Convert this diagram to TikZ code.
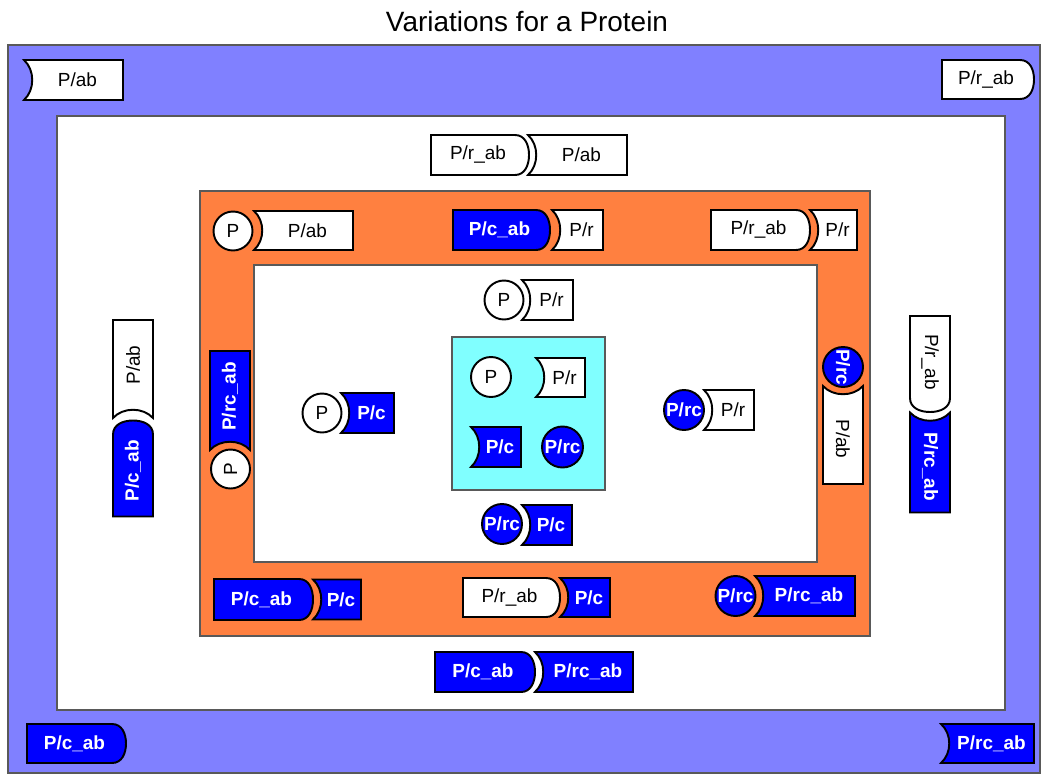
\documentclass[tikz,border=0pt]{standalone}
\usepackage{fontspec}
\setmainfont{Liberation Sans}
\usetikzlibrary{positioning}
\definecolor{outerblue}{RGB}{128,128,255}
\definecolor{orangebg}{RGB}{255,128,64}
\definecolor{cyanbg}{RGB}{128,255,255}
\definecolor{shapeblue}{RGB}{0,0,255}

\begin{document}
\begin{tikzpicture}[
    x=0.02cm, y=-0.02cm,
    region/.style={draw=black!65, line width=0.6pt},
    wbox/.style={draw, line width=1.1pt, fill=white},
    bbox/.style={draw, line width=1.1pt, fill=shapeblue},
    wtxt/.style={font=\fontsize{10.8}{12}\selectfont, text=black, inner sep=0pt},
    btxt/.style={font=\fontsize{10.8}{12}\selectfont\bfseries, text=white, inner sep=0pt},
    wcirc/.style={circle, wbox, wtxt, minimum size=0.78cm},
    bcirc/.style={circle, bbox, btxt, minimum size=0.8cm},
    pics/concbox/.style n args={4}{code={
        \draw[#3box] (-#1/2,#2/2) .. controls (-#1/2+11,#2/4) and (-#1/2+11,-#2/4) .. (-#1/2,-#2/2)
            -- (#1/2,-#2/2) -- (#1/2,#2/2) -- cycle;
        \node[#3txt, transform shape] (-t) at (4,0) {#4};
    }},
    pics/convbox/.style n args={4}{code={
        \draw[#3box] (-#1/2,-#2/2) -- (#1/2-14,-#2/2) .. controls (#1/2-4,-#2/2) and (#1/2,-#2/4) .. (#1/2,0)
            .. controls (#1/2,#2/4) and (#1/2-4,#2/2) .. (#1/2-14,#2/2) -- (-#1/2,#2/2) -- cycle;
        \node[#3txt, transform shape] (-t) at (-2,0) {#4};
    }}
]
    \useasboundingbox (0,0) rectangle (1041,774);
    \node[font=\fontsize{15.9}{18}\selectfont] (title) at (527,22) {Variations for a Protein};

    % nested regions
    \draw[region, fill=outerblue] (8,45) rectangle (1040,773);
    \draw[region, fill=white] (57,116) rectangle (1005,710);
    \draw[region, fill=orangebg] (200,191) rectangle (870,636);
    \draw[region, fill=white] (254,265) rectangle (817,562);
    \draw[region, fill=cyanbg] (452,337) rectangle (605,490);

    % outer (blue) ring
    \pic (oab) at (73.5,80) {concbox={99}{40}{w}{P/ab}};
    \pic (orab) at (988,79.5) {convbox={92}{39}{w}{P/r\_ab}};
    \pic (ocab) at (76.5,743.5) {convbox={99}{39}{b}{P/c\_ab}};
    \pic (orcab) at (987.5,743.5) {concbox={93}{39}{b}{P/rc\_ab}};
    \pic[rotate=90] (olab) at (133,369) {concbox={98}{40}{w}{P/ab}};
    \pic[rotate=90] (olcab) at (133,468.5) {convbox={96}{40}{b}{P/c\_ab}};
    \pic[rotate=-90] (orrab) at (930,364) {convbox={96}{40}{w}{P/r\_ab}};
    \pic[rotate=-90] (orrcab) at (930,462.5) {concbox={100}{40}{b}{P/rc\_ab}};

    % white ring
    \pic (wrab) at (480,155) {convbox={98}{40}{w}{P/r\_ab}};
    \pic (wab) at (577.5,155) {concbox={99}{40}{w}{P/ab}};
    \pic (wcab) at (485,672) {convbox={100}{40}{b}{P/c\_ab}};
    \pic (wrcab) at (584,672) {concbox={98}{40}{b}{P/rc\_ab}};

    % orange ring
    \node[wcirc] (gp1) at (233,231) {P};
    \pic (gab) at (303.5,230.5) {concbox={99}{39}{w}{P/ab}};
    \pic (gcab) at (501.5,230) {convbox={97}{40}{b}{P/c\_ab}};
    \pic (gr1) at (577.5,230) {concbox={51}{40}{w}{P/r}};
    \pic (grab) at (760.5,230) {convbox={99}{40}{w}{P/r\_ab}};
    \pic (gr2) at (833.5,230) {concbox={47}{40}{w}{P/r}};
    \pic[rotate=90] (grcab1) at (230,400.5) {concbox={99}{40}{b}{P/rc\_ab}};
    \node[wcirc, rotate=90] (gp2) at (230.5,469) {P};
    \node[bcirc, rotate=-90] (grc1) at (843,367) {P/rc};
    \pic[rotate=-90] (grab2) at (843,435) {concbox={98}{40}{w}{P/ab}};
    \pic (gcab2) at (263.5,599.5) {convbox={99}{41}{b}{P/c\_ab}};
    \pic (gc1) at (337,599.5) {concbox={48}{40}{b}{P/c}};
    \pic (grab3) at (511.5,597.5) {convbox={97}{39}{w}{P/r\_ab}};
    \pic (gc2) at (585,597.5) {concbox={50}{39}{b}{P/c}};
    \node[bcirc] (grc2) at (735.5,596) {P/rc};
    \pic (grcab2) at (805,596) {concbox={100}{40}{b}{P/rc\_ab}};

    % inner white ring
    \node[wcirc] (ip1) at (504,300) {P};
    \pic (ir1) at (547.5,300) {concbox={51}{40}{w}{P/r}};
    \node[wcirc] (ip2) at (322,413) {P};
    \pic (ic1) at (367.5,413) {concbox={53}{40}{b}{P/c}};
    \node[bcirc] (irc1) at (684,410) {P/rc};
    \pic (ir2) at (729,410) {concbox={50}{40}{w}{P/r}};
    \node[bcirc] (irc2) at (502,524) {P/rc};
    \pic (ic2) at (547,525) {concbox={50}{40}{b}{P/c}};

    % cyan core
    \node[wcirc, minimum size=0.8cm] (cp) at (491,377) {P};
    \pic (cr) at (560.5,377.5) {concbox={49}{39}{w}{P/r}};
    \pic (cc) at (496,447) {concbox={50}{40}{b}{P/c}};
    \node[bcirc, minimum size=0.82cm] (crc) at (562.5,447) {P/rc};
\end{tikzpicture}
\end{document}
